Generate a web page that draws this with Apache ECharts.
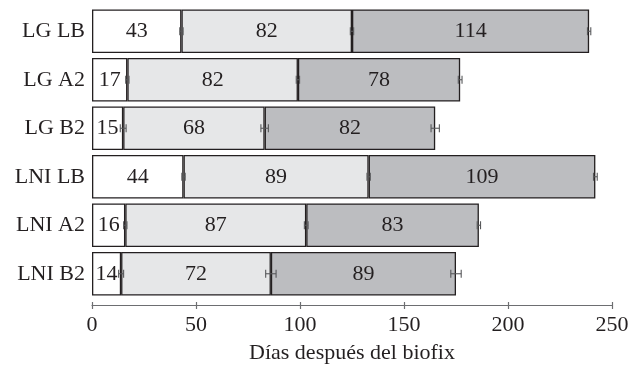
<!DOCTYPE html>
<html><head><meta charset="utf-8">
<script src="https://cdn.jsdelivr.net/npm/echarts@6/dist/echarts.min.js"></script>
<style>html,body{margin:0;padding:0;background:#fff}#c{width:637px;height:369px}</style>
</head><body><div id="c"></div>
<script>
const categories = ['LG LB','LG A2','LG B2','LNI LB','LNI A2','LNI B2'];
const seg1 = [43,17,15,44,16,14];
const seg2 = [82,82,68,89,87,72];
const seg3 = [114,78,82,109,83,89];
const err1 = [0.8,0.8,1.4,0.8,0.8,1.2];
const err2 = [0.8,0.8,1.8,0.8,0.9,2.5];
const err3 = [0.8,0.9,2.0,0.9,0.8,2.5];
const xTicks = [0,50,100,150,200,250];

const FONT = '"Liberation Serif", "Times New Roman", serif';
const TXT = '#231f20';
const colors = ['#ffffff','#e6e7e8','#bcbdc0'];
const segs = [seg1,seg2,seg3];
const errs = [err1,err2,err3];

const barSeries = segs.map((s,i)=>({
  type:'bar', stack:'t', data:s, barCategoryGap:'10%',
  itemStyle:{color:colors[i], borderColor:'#231f20', borderWidth:1.3},
  label:{show:true, position:'inside', color:TXT, fontFamily:FONT, fontSize:22},
  z:2
}));

const errData = [];
for (let c=0;c<categories.length;c++){
  let cum=0;
  for (let k=0;k<3;k++){ cum+=segs[k][c]; errData.push([cum,c,errs[k][c]]); }
}
const errSeries = {
  type:'custom', data:errData, z:5,
  renderItem:function(params, api){
    const v=api.value(0), c=api.value(1), e=api.value(2);
    const p0=api.coord([v-e,c]), p1=api.coord([v+e,c]);
    const h=4;
    const st={stroke:'#58595b', lineWidth:1.1};
    return {type:'group', children:[
      {type:'line', shape:{x1:p0[0],y1:p0[1],x2:p1[0],y2:p1[1]}, style:st},
      {type:'line', shape:{x1:p0[0],y1:p0[1]-h,x2:p0[0],y2:p0[1]+h}, style:st},
      {type:'line', shape:{x1:p1[0],y1:p1[1]-h,x2:p1[0],y2:p1[1]+h}, style:st}
    ]};
  }
};

const chart = echarts.init(document.getElementById('c'), null, {renderer:'canvas'});
chart.setOption({
  animation:false,
  grid:{left:92, right:25, top:7, bottom:68.5},
  xAxis:[{
    type:'value', min:xTicks[0], max:xTicks[xTicks.length-1], interval:50, position:'bottom', offset:7,
    name:'Días después del biofix', nameLocation:'middle', nameGap:37,
    nameTextStyle:{color:TXT, fontFamily:FONT, fontSize:22},
    axisLine:{show:true, lineStyle:{color:'#6d6e71', width:1.2}},
    axisTick:{show:true, length:4, lineStyle:{color:'#6d6e71', width:1.2}},
    axisLabel:{color:TXT, fontFamily:FONT, fontSize:22, margin:9},
    splitLine:{show:false}
  },{
    type:'value', min:xTicks[0], max:xTicks[xTicks.length-1], interval:50, position:'bottom', offset:7,
    axisLine:{show:false},
    axisTick:{show:true, inside:true, length:3, lineStyle:{color:'#6d6e71', width:1.2}},
    axisLabel:{show:false}, splitLine:{show:false}
  }],
  yAxis:{
    type:'category', data:categories, inverse:true,
    axisLine:{show:false}, axisTick:{show:false},
    axisLabel:{color:TXT, fontFamily:FONT, fontSize:22, margin:7}
  },
  series:[...barSeries, errSeries]
});
</script></body></html>
